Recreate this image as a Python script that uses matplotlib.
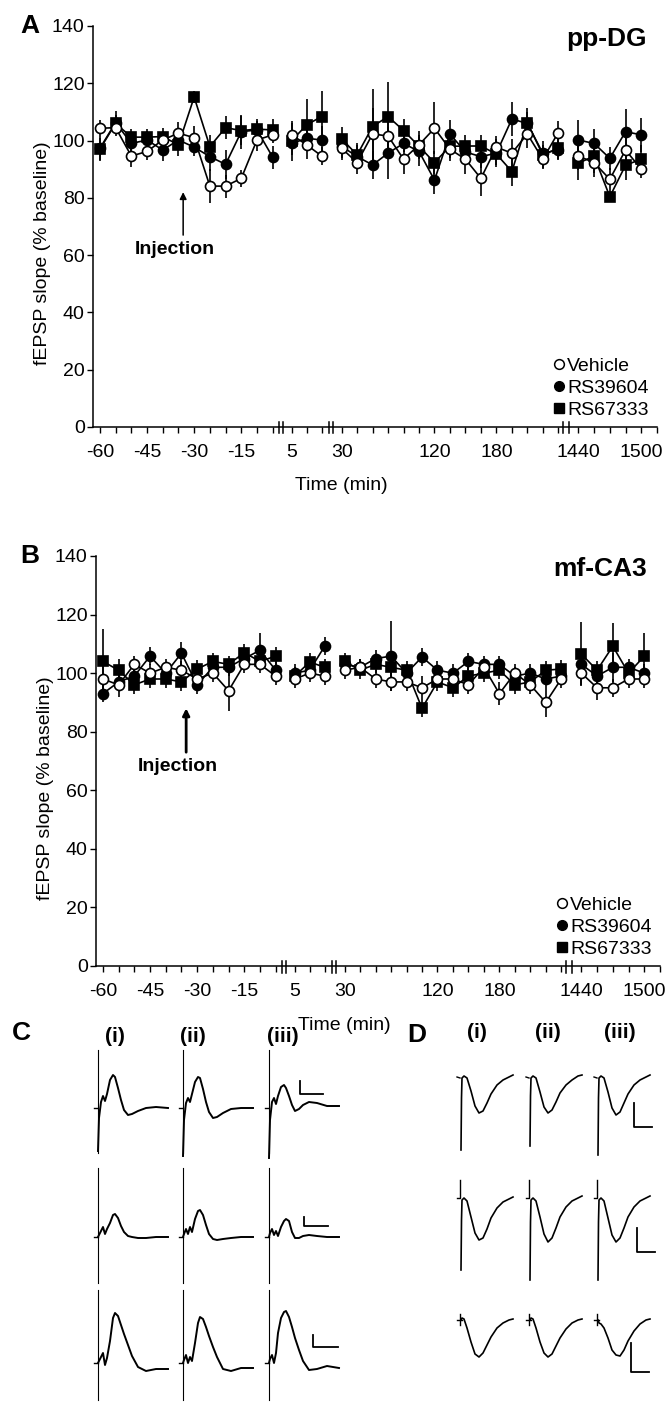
import numpy as np
import matplotlib
matplotlib.use("Agg")
import matplotlib.pyplot as plt
from matplotlib.lines import Line2D

plt.rcParams['font.family'] = ['Liberation Sans', 'DejaVu Sans']

# ---- time course data ----
pre_t = [-60, -55, -50, -45, -40, -35, -30, -25, -20, -15, -10, -5]
early_t = [5, 10, 15]
late_t = [30, 45, 60, 75, 90, 105, 120, 135, 150, 165, 180, 195, 210, 225, 240]
day_t = [1440, 1455, 1470, 1485, 1500]
times = pre_t + early_t + late_t + day_t

labels = ["Vehicle", "RS39604", "RS67333"]

# panel A  (pp-DG)
a_vehicle = [104.3, 104.5, 94.6, 96.2, 100.2, 102.6, 101, 84.1, 84.1, 86.8, 100.2, 102,
             102, 98.5, 94.6,
             97.3, 92.3, 102.3, 101.6, 93.5, 98.5, 104.3, 97, 93.5, 86.8, 97.7, 95.6, 102.3, 93.5, 102.8,
             94.6, 92.3, 86.5, 96.7, 90]
a_vehicle_err = [3, 3, 4, 3, 3, 4, 4, 6, 4, 3, 4, 3,
                 4, 5, 3,
                 4, 4, 9, 6, 5, 5, 9, 4, 5, 6, 4, 5, 5, 3, 4,
                 5, 5, 4, 6, 3]
a_rs396 = [97.3, 106.3, 99, 100.2, 96.7, 100.2, 97.7, 94.4, 91.7, 103.1, 103.7, 94.2,
           99, 100.8, 100.2,
           98, 94.4, 91.5, 95.6, 99, 96.2, 86.2, 102.3, 96, 94.4, 95.6, 107.5, 106, 95.6, 96.7,
           100.2, 99, 93.8, 103.1, 102]
a_rs396_err = [4, 4, 4, 3, 4, 3, 3, 5, 5, 6, 4, 4,
               4, 4, 5,
               4, 4, 5, 9, 3, 5, 5, 5, 4, 4, 5, 6, 4, 3, 3,
               7, 5, 4, 8, 6]
a_rs673 = [97, 106, 101.2, 101.2, 101.4, 98.5, 115.2, 97.9, 104.5, 103.5, 104, 103.7,
           100, 105.5, 108.4,
           100.6, 95, 104.9, 108.4, 103.5, 98, 92.3, 98, 98.1, 98.1, 95.3, 89.2, 106.3, 95, 97.3,
           92.1, 94.6, 80.4, 91.4, 93.5]
a_rs673_err = [4, 3, 3, 3, 3, 4, 2, 4, 4, 5, 3, 4,
               7, 9, 9,
               4, 4, 13, 12, 4, 4, 4, 4, 4, 4, 4, 5, 5, 5, 4,
               6, 6, 2, 5, 5]

# panel B  (mf-CA3)
b_vehicle = [98, 96, 103, 100, 102, 101, 98, 100, 94, 103, 103, 99,
             98, 100, 99,
             101, 102, 98, 97, 97, 95, 98, 98, 96, 102, 93, 100, 96, 90, 98,
             100, 95, 95, 98, 98]
b_vehicle_err = [5, 4, 3, 3, 3, 3, 4, 3, 7, 3, 3, 3,
                 3, 3, 3,
                 3, 3, 3, 3, 3, 4, 3, 3, 3, 3, 4, 3, 3, 5, 3,
                 4, 4, 3, 3, 3]
b_rs396 = [93, 97, 99, 105.8, 100, 106.8, 96, 102, 102, 105, 107.8, 101,
           100, 101, 109.2,
           103, 102, 105, 105.8, 100, 105.5, 101, 100, 104, 103, 103, 99, 100, 98, 99,
           103, 99, 102, 102, 100]
b_rs396_err = [3, 3, 3, 3, 3, 4, 3, 3, 3, 3, 6, 3,
               3, 3, 3,
               3, 3, 3, 12, 3, 3, 3, 3, 3, 3, 3, 3, 3, 3, 3,
               3, 3, 5, 3, 3]
b_rs673 = [104, 101, 96, 98, 98, 97, 101.4, 104, 103, 107, 104, 105.8,
           99, 103.8, 102,
           104, 101, 103, 102, 101, 88, 97, 95, 99, 100, 101, 96, 97, 101, 101.4,
           106.5, 101, 109.2, 100, 105.8]
b_rs673_err = [11, 4, 3, 3, 3, 3, 3, 3, 3, 3, 3, 3,
               3, 3, 3,
               3, 3, 3, 3, 3, 3, 3, 3, 3, 3, 3, 3, 3, 3, 3,
               11, 3, 8, 3, 8]

# broken time axis: time -> position (px from axis start)
seg_t = [-62.2, -3, 2, 17.5, 22, 245, 1431, 1515]
seg_u = [0, 186.2, 190, 236.5, 240.7, 471, 476.5, 564.7]
segments = [slice(0, 12), slice(12, 15), slice(15, 30), slice(30, 35)]
tick_t = ([-60, -55, -50, -45, -40, -35, -30, -25, -20, -15, -10, -5] + [5, 10, 15]
          + list(range(30, 241, 15)) + [1440, 1455, 1470, 1485, 1500, 1515])
tick_lab = {-60: "-60", -45: "-45", -30: "-30", -15: "-15", 5: "5", 30: "30",
            120: "120", 180: "180", 1440: "1440", 1500: "1500"}


def fwd(t):
    t = np.asarray(t, dtype=float)
    u = np.interp(t, seg_t, seg_u)
    u = np.where(t < seg_t[0], seg_u[0] + (t - seg_t[0]) * 3.145, u)
    u = np.where(t > seg_t[-1], seg_u[-1] + (t - seg_t[-1]) * 1.05, u)
    return u


def inv(u):
    u = np.asarray(u, dtype=float)
    t = np.interp(u, seg_u, seg_t)
    t = np.where(u < seg_u[0], seg_t[0] + (u - seg_u[0]) / 3.145, t)
    t = np.where(u > seg_u[-1], seg_t[-1] + (u - seg_u[-1]) / 1.05, t)
    return t


W, H = 671, 1402
fig = plt.figure(figsize=(W / 100, H / 100), dpi=100)


def px_axes(x0, y0, x1, y1):
    return fig.add_axes([x0 / W, 1 - y1 / H, (x1 - x0) / W, (y1 - y0) / H])


styles = [
    dict(fmt='-o', mfc='white', mec='k', zorder=4),   # vehicle
    dict(fmt='-o', mfc='k', mec='k', zorder=3),       # RS39604
    dict(fmt='-s', mfc='k', mec='k', zorder=2),       # RS67333
]


def time_panel(box, series, title, arrow_y, arrow_lw):
    ax = px_axes(*box)
    ax.set_xscale('function', functions=(fwd, inv))
    for (vals, errs), st in zip(series, styles):
        t = np.array(times)
        v = np.array(vals)
        e = np.array(errs)
        for s in segments:
            ax.errorbar(t[s], v[s], yerr=e[s], color='k', ms=7.2, mew=1.2, lw=1.2,
                        elinewidth=1.2, capsize=0, **st)
    ax.set_xlim(seg_t[0], seg_t[-1])
    ax.set_ylim(0, 140)
    ax.set_yticks(range(0, 141, 20))
    ax.set_xticks(tick_t)
    ax.set_xticklabels([tick_lab.get(t, "") for t in tick_t])
    for sp in ['top', 'right']:
        ax.spines[sp].set_visible(False)
    for sp in ['left', 'bottom']:
        ax.spines[sp].set_linewidth(1.1)
    ax.tick_params(axis='both', direction='out', length=4, width=1.0, labelsize=14)
    ax.tick_params(axis='x', pad=8)
    ax.tick_params(axis='y', pad=2)
    ax.set_ylabel("fEPSP slope (% baseline)", fontsize=14)
    ax.yaxis.set_label_coords(-0.075, 0.434)
    ax.set_xlabel("Time (min)", fontsize=14)
    ax.xaxis.set_label_coords(0.44, -0.125)
    # axis breaks
    for t0, t1 in [(-3, 2), (17.5, 22), (245, 1431)]:
        for tb in (t0, t1):
            ax.plot([tb, tb], [-0.016, 0.012], transform=ax.get_xaxis_transform(),
                    color='k', lw=1.1, clip_on=False)
    handles = [Line2D([], [], ls='', marker='o', mfc='white', mec='k', ms=7, mew=1.1),
               Line2D([], [], ls='', marker='o', mfc='k', mec='k', ms=7),
               Line2D([], [], ls='', marker='s', mfc='k', mec='k', ms=6.5)]
    ax.legend(handles, labels, loc='lower right', bbox_to_anchor=(0.985, 0.02),
              frameon=False, fontsize=14, handlelength=0.5, handletextpad=0.15,
              labelspacing=0.22, borderpad=0, borderaxespad=0)
    ax.annotate("", xy=(-33.5, arrow_y), xytext=(-33.5, arrow_y - 15),
                arrowprops=dict(arrowstyle='-|>', color='k', lw=arrow_lw,
                                mutation_scale=10, shrinkA=0, shrinkB=0))
    ax.text(-36, arrow_y - 17, "Injection", ha='center', va='top',
            fontsize=14, fontweight='bold')
    fig.text(647 / W, 1 - (box[1] + 1) / H, title, ha='right', va='top',
             fontsize=19, fontweight='bold')
    return ax


time_panel((93, 26, 657, 427),
           [(a_vehicle, a_vehicle_err), (a_rs396, a_rs396_err), (a_rs673, a_rs673_err)],
           "pp-DG", 82, 1.1)
time_panel((96, 556, 660, 966),
           [(b_vehicle, b_vehicle_err), (b_rs396, b_rs396_err), (b_rs673, b_rs673_err)],
           "mf-CA3", 88, 2.0)

# ---- example traces (local px units: x from stimulus, y from baseline) ----
c_t = [0, 1, 3, 5, 7, 9, 12, 15, 17, 20, 23, 26, 30, 34, 40, 48, 58, 70]
c1_i = [-43, -10, 6, 12, 7, 14, 28, 33, 31, 20, 8, -2, -7, -6, -3, 0, 1, 0]
c1_ii = [-48, -12, 5, 10, 6, 14, 26, 31, 30, 19, 6, -4, -10, -9, -5, -1, 0, 0]
c1_iii = [-50, -12, 6, 10, 4, 12, 21, 23, 20, 12, 3, -3, -1, 3, 6, 5, 2, 2]
c2_i = [0, 2, 6, 10, 3, 8, 14, 22, 23, 19, 11, 5, 1, 0, -1, -1, 0, 0]
c2_ii = [0, 3, 8, 3, 10, 5, 18, 26, 27, 22, 12, 3, -2, -3, -2, -1, 0, 0]
c2_iii = [0, 4, 8, 2, 6, 1, 10, 16, 18, 16, 5, -1, -1, 1, 2, 1, 0, 0]
c3_i = [0, 2, 6, 10, -2, 5, 22, 45, 50, 47, 38, 29, 18, 7, -4, -8, -6, -6]
c3_ii = [0, 3, 8, 0, 6, 2, 20, 40, 46, 44, 36, 27, 16, 6, -6, -8, -5, -5]
c3_iii = [0, 4, 8, 0, 10, 30, 45, 51, 52, 46, 36, 25, 13, 2, -7, -6, -3, -5]
c_rows = [[c1_i, c1_ii, c1_iii], [c2_i, c2_ii, c2_iii], [c3_i, c3_ii, c3_iii]]
c_stim_top = [58, 69, 73]
c_stim_bot = [-45, -46, -37]

d_t = [0, 0.5, 1, 3, 6, 10, 14, 18, 22, 26, 30, 36, 42, 48, 52]
d1_i = [-72, -20, 0, 2, 0, -13, -28, -35, -33, -25, -16, -7, -2, 1, 3]
d1_ii = [-68, -18, 0, 2, 0, -14, -29, -35, -32, -24, -15, -7, -2, 2, 3]
d1_iii = [-77, -20, 0, 2, 0, -14, -30, -37, -34, -25, -16, -7, -2, 1, 3]
d2_i = [-70, -20, 0, 2, -1, -17, -33, -40, -38, -29, -18, -8, -2, 1, 3]
d2_ii = [-80, -22, 0, 2, -1, -17, -34, -42, -38, -28, -17, -7, -1, 2, 4]
d2_iii = [-80, -22, 0, 2, -1, -18, -35, -42, -38, -28, -17, -7, -1, 2, 4]
d3_i = [0, 1, 2, 1, -8, -22, -34, -37, -33, -25, -17, -8, -3, 0, 1]
d3_ii = [0, 1, 2, 1, -8, -22, -33, -37, -34, -26, -18, -9, -3, 0, 1]
d3_iii = [0, -1, -3, -4, -8, -18, -30, -35, -36, -30, -21, -11, -4, 0, 1]
d_rows = [[d1_i, d1_ii, d1_iii], [d2_i, d2_ii, d2_iii], [d3_i, d3_ii, d3_iii]]

c_col_x = [98, 183, 269]
c_row_y = [1108, 1237, 1363]
d_col_x = [461, 530, 598]
d_row_y = [1078, 1200, 1320]

# C: pp-DG population spikes
for r, row in enumerate(c_rows):
    for c, trace in enumerate(row):
        ox, oy = c_col_x[c], c_row_y[r]
        ax = px_axes(ox - 6, oy - 80, ox + 74, oy + 55)
        ax.set_xlim(-6, 74)
        ax.set_ylim(-55, 80)
        ax.axis('off')
        ax.plot([0, 0], [c_stim_bot[r], c_stim_top[r]], color='k', lw=0.8)
        ax.plot([-4, 0], [0, 0], color='k', lw=1.0)
        ax.plot(c_t, trace, color='k', lw=1.4, solid_joinstyle='round')
        if c == 2:
            bars = [(31, 27, 14, 54), (35, 20, 11, 59), (44, 28, 16, 69)][r]
            ax.plot([bars[0], bars[0], bars[3]], [bars[1], bars[2], bars[2]],
                    color='k', lw=1.3)

# D: mf-CA3 field EPSPs
for r, row in enumerate(d_rows):
    for c, trace in enumerate(row):
        ox, oy = d_col_x[c], d_row_y[r]
        ax = px_axes(ox - 8, oy - 25, ox + 60, oy + 85)
        ax.set_xlim(-8, 60)
        ax.set_ylim(-85, 25)
        ax.axis('off')
        ax.plot(d_t, trace, color='k', lw=1.2)
        if r == 0:
            ax.plot([-4, -1], [1, 0], color='k', lw=1.0)
        elif r == 1:
            ax.plot([-4, -1, -1], [2, 2, 20], color='k', lw=1.0)
        else:
            ax.plot([-4, 1], [0, 0], color='k', lw=1.0)
            ax.plot([-1, -1], [-5, 6], color='k', lw=1.0)
        if c == 2:
            bars = [(36, -25, -49, 54), (39, -28, -52, 57), (33, -23, -52, 51)][r]
            ax.plot([bars[0], bars[0], bars[3]], [bars[1], bars[2], bars[2]],
                    color='k', lw=1.3)

# panel letters and column headings
for letter, x, y in [("A", 30, 26), ("B", 30, 556), ("C", 21, 1033), ("D", 417, 1035)]:
    fig.text(x / W, 1 - y / H, letter, ha='center', va='center', fontsize=19, fontweight='bold')
for lab, x in zip(["(i)", "(ii)", "(iii)"], [115, 193, 283]):
    fig.text(x / W, 1 - 1037 / H, lab, ha='center', va='center', fontsize=15, fontweight='bold')
for lab, x in zip(["(i)", "(ii)", "(iii)"], [477, 548, 620]):
    fig.text(x / W, 1 - 1033 / H, lab, ha='center', va='center', fontsize=15, fontweight='bold')

fig.savefig("out.png", dpi=100)
